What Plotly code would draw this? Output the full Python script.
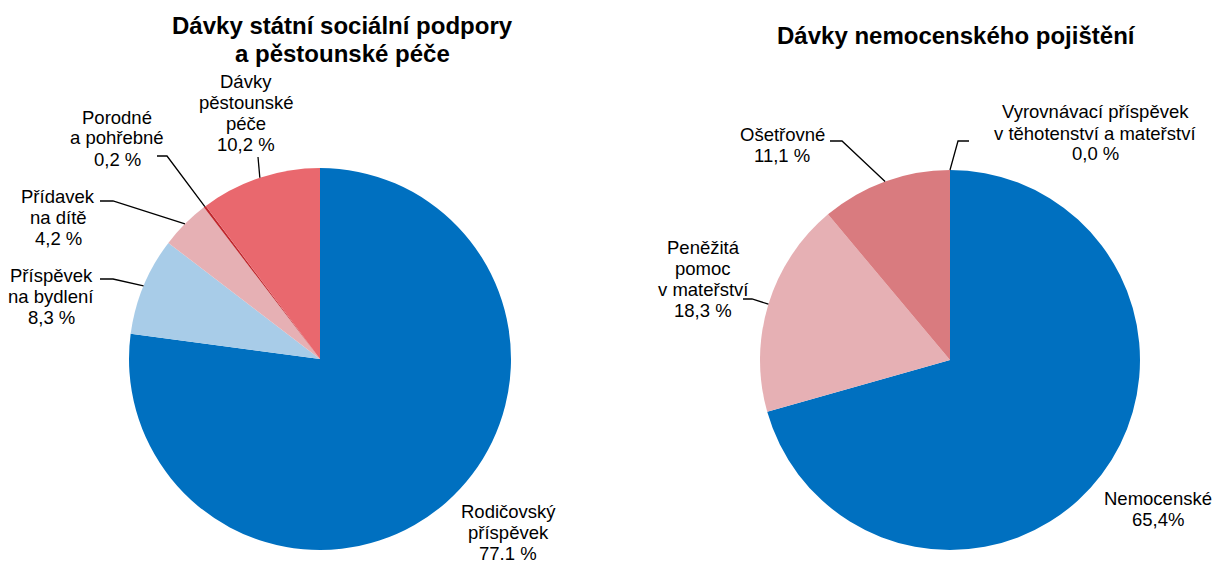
import math
import plotly.graph_objects as go

W, H = 1213, 566

# ---------------- data ----------------
left_title = "<b>Dávky státní sociální podpory</b><br><b>a pěstounské péče</b>"
left_labels = ["Rodičovský příspěvek", "Příspěvek na bydlení", "Přídavek na dítě",
               "Porodné a pohřebné", "Dávky pěstounské péče"]
left_values = [77.1, 8.3, 4.2, 0.2, 10.2]
left_texts = ["Rodičovský<br>příspěvek<br>77.1 %", "Příspěvek<br>na bydlení<br>8,3 %",
              "Přídavek<br>na dítě<br>4,2 %", "Porodné<br>a pohřebné<br>0,2 %",
              "Dávky<br>pěstounské<br>péče<br>10,2 %"]

right_title = "<b>Dávky nemocenského pojištění</b>"
right_labels = ["Nemocenské", "Peněžitá pomoc v mateřství", "Ošetřovné",
                "Vyrovnávací příspěvek v těhotenství a mateřství"]
right_values = [70.6, 18.3, 11.1, 0.0]   # slice sizes as drawn
right_texts = ["Nemocenské<br>65,4%", "Peněžitá<br>pomoc<br>v mateřství<br>18,3 %",
               "Ošetřovné<br>11,1 %", "Vyrovnávací příspěvek<br>v těhotenství a mateřství<br>0,0 %"]

# ---------------- style / layout ----------------
left_colors = ["#0070C0", "#A8CCE8", "#E6B0B4", "#C0272D", "#E9686E"]
right_colors = ["#0070C0", "#E6B0B4", "#D97B7F", "#C0504D"]
FONT = "Liberation Sans, Arial, sans-serif"
LABEL_SIZE = 18.5
LINE_GAP = 21
TITLE_SIZE = 24
TITLE_GAP = 27

# pie centres / radii in pixels
L_C, L_R = (320, 359), 191
R_C, R_R = (950, 360), 190

# label block centres (px) and leader elbow points (px) ; None = no leader
left_label_pos = [(508, 532), (51, 296), (58, 217), (117, 138), (246, 113)]
left_elbows = [None, [(100, 279), (113, 279)], [(100, 201), (113, 201)],
               [(157, 156), (167, 156)], [(258, 157)]]
right_label_pos = [(1158, 509), (703, 279), (782, 145), (1095, 133)]
right_elbows = [None, [(743, 299), (752, 299)], [(830, 141), (842, 141)],
                [(969, 141), (958, 141)]]
left_title_pos = (343, 39.5)
right_title_pos = (956, 35)


def px(x):
    return x / W


def py(y):
    return 1 - y / H


def domain(c, r):
    cx, cy = c
    return dict(x=[px(cx - r - 20), px(cx + r + 20)], y=[py(cy + r), py(cy - r)])


def mid_points(values, c, r):
    tot = sum(values)
    cum = 0
    pts = []
    for v in values:
        mid = (cum + v / 2) / tot
        th = 2 * math.pi * mid
        pts.append((c[0] + r * math.sin(th), c[1] - r * math.cos(th)))
        cum += v
    return pts


def text_block(text, pos, size, gap):
    lines = text.split("<br>")
    n = len(lines)
    out = []
    for i, ln in enumerate(lines):
        yy = pos[1] + (i - (n - 1) / 2) * gap
        out.append(dict(text=ln, x=px(pos[0]), y=py(yy), xref="paper", yref="paper",
                        showarrow=False, xanchor="center", yanchor="middle",
                        font=dict(family=FONT, size=size, color="#000000")))
    return out


fig = go.Figure()
for labels, values, colors, c, r in [(left_labels, left_values, left_colors, L_C, L_R),
                                     (right_labels, right_values, right_colors, R_C, R_R)]:
    fig.add_trace(go.Pie(labels=labels, values=values, sort=False, direction="clockwise",
                         rotation=0, marker=dict(colors=colors, line=dict(width=0)),
                         textinfo="none", hoverinfo="label+percent", domain=domain(c, r),
                         showlegend=False))

annotations = []
shapes = []
for texts, pos, elbows, values, c, r in [
        (left_texts, left_label_pos, left_elbows, left_values, L_C, L_R),
        (right_texts, right_label_pos, right_elbows, right_values, R_C, R_R)]:
    mids = mid_points(values, c, r)
    for t, p, e, m in zip(texts, pos, elbows, mids):
        annotations += text_block(t, p, LABEL_SIZE, LINE_GAP)
        if e:
            pts = e + [m]
            path = "M " + " L ".join(f"{px(a):.5f},{py(b):.5f}" for a, b in pts)
            shapes.append(dict(type="path", path=path, xref="paper", yref="paper",
                               line=dict(color="#000000", width=1.3)))

annotations += text_block(left_title, left_title_pos, TITLE_SIZE, TITLE_GAP)
annotations += text_block(right_title, right_title_pos, TITLE_SIZE, TITLE_GAP)

fig.update_layout(width=W, height=H, margin=dict(l=0, r=0, t=0, b=0),
                  paper_bgcolor="white", plot_bgcolor="white",
                  annotations=annotations, shapes=shapes)

fig.write_html("out.html", config={"displayModeBar": False},
               post_script="document.body.style.margin='0';")
